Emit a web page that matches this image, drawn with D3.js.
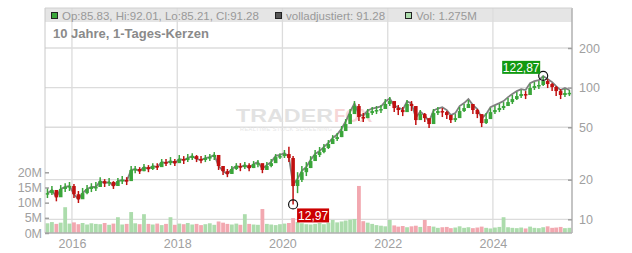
<!DOCTYPE html>
<html>
<head>
<meta charset="utf-8">
<script src="https://cdnjs.cloudflare.com/ajax/libs/d3/7.8.5/d3.min.js"></script>
<style>
  body { margin: 0; background: #fff; font-family: "Liberation Sans", Arial, sans-serif; }
</style>
</head>
<body>
<div id="chart"></div>
<script>
// monthly candles, Jul 2015 .. Jun 2025 (open = previous close)
const firstOpen = 15.4;
const closes = [
  15.8, 16.7, 14.7, 17.0, 17.6, 17.9, 15.5, 14.2, 15.8, 17.0, 17.6, 17.6,
  19.5, 18.8, 19.2, 17.9, 19.5, 19.9, 19.5, 23.7, 24.1, 23.2, 24.9, 24.1,
  25.4, 24.9, 27.2, 26.7, 27.7, 26.7, 28.7, 28.2, 29.2, 30.2, 28.7, 28.2,
  29.2, 29.7, 30.8, 25.4, 23.2, 22.1, 24.1, 25.4, 24.9, 25.8, 24.5, 26.3,
  26.7, 23.7, 25.4, 26.7, 29.7, 30.2, 31.3, 29.2, 17.9, 19.9, 22.8, 24.5,
  27.7, 30.8, 32.4, 34.8, 37.3, 40.7, 42.1, 46.8, 52.9, 63.0, 72.5, 59.8,
  58.7, 64.1, 66.4, 67.6, 68.8, 75.1, 79.1, 70.0, 67.6, 65.2, 75.1, 72.5,
  56.7, 63.0, 58.7, 52.9, 64.1, 66.4, 65.2, 61.9, 56.7, 58.7, 66.4, 70.0,
  75.1, 67.6, 63.0, 53.8, 57.7, 65.2, 67.6, 70.0, 72.5, 77.7, 81.9, 86.3,
  89.4, 87.9, 99.3, 102.8, 104.7, 112.2, 106.5, 101.1, 94.2, 87.9, 91.0, 91.28
];
const highs = [
  17.3, 17.9, 16.7, 18.2, 18.8, 19.2, 18.5, 16.4, 17.3, 18.2, 18.8, 19.2,
  20.9, 20.2, 20.6, 19.5, 20.6, 21.3, 20.9, 25.4, 25.4, 24.9, 26.3, 25.8,
  26.7, 26.7, 28.7, 28.7, 29.7, 28.7, 30.8, 30.2, 31.3, 31.8, 30.8, 30.2,
  30.8, 31.3, 32.4, 30.8, 25.4, 24.1, 25.4, 26.7, 26.7, 27.2, 26.7, 27.7,
  28.2, 26.3, 27.2, 28.7, 31.3, 31.8, 33.6, 35.6, 30.2, 22.8, 25.4, 27.2,
  30.2, 33.6, 35.4, 37.3, 40.0, 43.6, 45.2, 51.1, 57.7, 68.8, 79.1, 75.1,
  64.1, 68.8, 71.2, 72.5, 73.8, 81.9, 84.8, 77.7, 73.8, 71.2, 80.5, 79.1,
  64.1, 67.6, 64.1, 57.7, 68.8, 71.2, 70.0, 66.4, 61.9, 63.0, 71.2, 75.1,
  80.5, 75.1, 68.8, 59.8, 64.1, 70.0, 72.5, 75.1, 77.7, 83.4, 87.9, 92.6,
  95.9, 94.2, 106.5, 110.3, 112.2, 122.87, 116.2, 108.4, 102.8, 97.6, 97.6, 95.9
];
const lows = [
  14.5, 15.3, 13.7, 15.0, 16.1, 16.4, 14.5, 13.3, 14.5, 15.5, 16.1, 16.4,
  18.2, 17.6, 17.9, 17.0, 17.9, 18.5, 18.2, 19.5, 22.4, 22.1, 23.2, 22.8,
  23.7, 23.7, 25.4, 25.4, 25.8, 25.4, 27.2, 26.3, 27.2, 28.2, 27.2, 26.7,
  27.2, 27.7, 28.2, 23.7, 21.7, 20.9, 22.1, 23.7, 23.2, 24.1, 23.2, 24.5,
  24.9, 22.4, 23.7, 24.9, 27.7, 28.7, 29.2, 27.2, 12.97, 15.8, 19.2, 21.3,
  24.5, 28.2, 29.7, 31.8, 34.2, 37.9, 39.3, 42.1, 47.6, 56.7, 65.2, 55.7,
  54.8, 58.7, 61.9, 63.0, 64.1, 70.0, 72.5, 65.2, 61.9, 60.8, 67.6, 66.4,
  52.0, 58.7, 54.8, 49.3, 58.7, 61.9, 59.8, 57.7, 53.8, 54.8, 61.9, 65.2,
  70.0, 63.0, 58.7, 50.2, 52.9, 59.8, 63.0, 65.2, 67.6, 72.5, 75.1, 80.5,
  83.4, 81.9, 91.0, 95.9, 97.6, 102.8, 99.3, 94.2, 86.3, 81.9, 84.8, 86.3
];
// "volladjustiert" line
const adjusted = [
  15.8, 16.7, 14.7, 17.0, 17.6, 17.9, 15.5, 14.2, 15.8, 17.0, 17.6, 17.6,
  19.5, 18.8, 19.2, 17.9, 19.5, 19.9, 19.5, 23.7, 24.1, 23.2, 24.9, 24.1,
  25.4, 24.9, 27.2, 26.7, 27.7, 26.7, 28.7, 28.2, 29.2, 30.2, 28.7, 28.2,
  29.2, 29.7, 30.8, 25.4, 23.2, 22.1, 24.1, 25.4, 24.9, 25.8, 24.5, 26.3,
  27.2, 24.2, 25.9, 27.2, 30.3, 30.8, 31.9, 29.8, 18.3, 20.3, 23.3, 25.0,
  28.3, 31.4, 33.0, 35.5, 38.0, 41.5, 44.0, 48.9, 55.3, 65.8, 75.8, 62.5,
  61.3, 67.0, 69.4, 70.6, 71.9, 78.5, 82.7, 73.2, 70.6, 68.1, 78.5, 75.8,
  59.3, 65.8, 61.3, 55.3, 67.0, 69.4, 71.1, 67.5, 61.8, 64.0, 72.4, 76.3,
  81.9, 73.7, 68.7, 58.6, 62.9, 71.1, 73.7, 76.3, 79.0, 84.7, 89.3, 94.1,
  97.4, 95.8, 108.2, 112.1, 114.1, 122.3, 116.1, 110.2, 102.7, 95.8, 99.2, 96.0
];
// volume in millions
const volumes = [
  3.2, 3.6, 3.0, 3.4, 8.5, 3.1, 3.5, 2.9, 3.3, 2.8, 3.2, 3.0,
  2.9, 3.3, 2.7, 3.1, 5.2, 2.8, 3.0, 6.9, 3.2, 2.9, 6.2, 3.0,
  2.8, 3.1, 2.6, 3.0, 5.2, 2.7, 3.1, 2.9, 3.3, 2.8, 3.0, 2.6,
  2.9, 3.2, 2.7, 3.8, 3.4, 3.0, 2.8, 3.1, 2.7, 6.2, 3.0, 2.8,
  2.7, 7.9, 3.0, 2.8, 2.6, 2.9, 3.1, 3.3, 4.9, 3.6, 3.2, 2.9,
  2.8, 3.0, 3.3, 2.9, 3.4, 4.3, 3.5, 3.8, 4.1, 4.4, 4.6, 15.5,
  3.9, 3.4, 3.0, 2.6, 2.4, 2.2, 4.3, 2.5, 2.1, 2.3, 1.9, 2.2,
  2.4, 2.0, 4.3, 2.3, 2.1, 1.7, 1.9, 2.0, 1.6, 1.8, 2.2, 1.7,
  1.9, 1.6, 1.8, 2.1, 1.7, 1.5, 1.8, 2.0, 5.2, 1.9, 1.7, 1.6,
  1.8, 1.5, 2.1, 1.7, 1.6, 1.9, 2.2, 1.7, 1.8, 2.0, 1.6, 1.7
];

const priceTicks = [10, 20, 50, 100, 200];
const volumeTicks = [0, 5, 10, 15, 20];
const yearTicks = [2016, 2018, 2020, 2022, 2024];
const legendItems = [
  { text: "Op:85.83, Hi:92.01, Lo:85.21, Cl:91.28", color: "#3aa53a", x: 51 },
  { text: "volladjustiert: 91.28", color: "#555555", x: 275 },
  { text: "Vol: 1.275M", color: "#acdcac", x: 405 }
];
const title = "10 Jahre, 1-Tages-Kerzen";

const W = 632, H = 253;
const plot = { left: 45, right: 572, top: 8, bottom: 233 };

const svg = d3.select("#chart").append("svg")
  .attr("width", W)
  .attr("height", H);

const x = d3.scaleTime()
  .domain([new Date(2015, 5, 28), new Date(2025, 6, 3)])
  .range([plot.left, plot.right]);

const y = d3.scaleLog()
  .domain([10, 200])
  .range([219.3, 48]);

const yVol = d3.scaleLinear()
  .domain([0, 20])
  .range([plot.bottom, 172.3]);

const data = closes.map((c, i) => ({
  date: new Date(2015, 6 + i, 15),
  open: i ? closes[i - 1] : firstOpen,
  high: highs[i],
  low: lows[i],
  close: c,
  adj: adjusted[i],
  vol: volumes[i]
}));

const green = "#3aa53a", red = "#c01010";
const gridColor = "#dcdcdc";

// header band
svg.append("rect")
  .attr("x", plot.left).attr("y", plot.top)
  .attr("width", plot.right - plot.left).attr("height", 14)
  .attr("fill", "#e5e5e5");

// grid
svg.append("g").selectAll("line")
  .data(yearTicks)
  .enter().append("line")
  .attr("x1", d => x(new Date(d, 0, 1)))
  .attr("x2", d => x(new Date(d, 0, 1)))
  .attr("y1", plot.top).attr("y2", plot.bottom)
  .attr("stroke", gridColor).attr("stroke-width", 1.3);

svg.append("g").selectAll("line")
  .data(priceTicks)
  .enter().append("line")
  .attr("x1", plot.left).attr("x2", plot.right)
  .attr("y1", d => y(d)).attr("y2", d => y(d))
  .attr("stroke", gridColor).attr("stroke-width", 1.3);

// watermark
const wm = svg.append("g");
wm.append("text")
  .attr("x", 236).attr("y", 122)
  .attr("textLength", 97).attr("lengthAdjust", "spacingAndGlyphs")
  .attr("font-size", 18).attr("font-weight", "bold")
  .attr("fill", "#e2e2e2")
  .text("TRADER");
wm.append("text")
  .attr("x", 334).attr("y", 122)
  .attr("textLength", 38).attr("lengthAdjust", "spacingAndGlyphs")
  .attr("font-size", 18).attr("font-weight", "bold")
  .attr("fill", "#f6d6d6")
  .text("FOX");
wm.append("text")
  .attr("x", 240).attr("y", 131)
  .attr("textLength", 92)
  .attr("font-size", 5.5)
  .attr("fill", "#e6e6e6")
  .text("REALTIME STOCK SCREENING");

// volume bars
svg.append("g").selectAll("rect")
  .data(data)
  .enter().append("rect")
  .attr("x", d => x(d.date) - 1.9)
  .attr("width", 3.8)
  .attr("y", d => yVol(d.vol))
  .attr("height", d => plot.bottom - yVol(d.vol))
  .attr("fill", d => d.close >= d.open ? "#acdcac" : "#f2a8b0");

// adjusted line
const adjLine = d3.line()
  .x(d => x(d.date))
  .y(d => y(d.adj));

svg.append("path")
  .datum(data)
  .attr("d", adjLine)
  .attr("fill", "none")
  .attr("stroke", "#808080")
  .attr("stroke-width", 1.8);

// candles
const candles = svg.append("g").selectAll("g")
  .data(data)
  .enter().append("g");

candles.append("line")
  .attr("x1", d => x(d.date)).attr("x2", d => x(d.date))
  .attr("y1", d => y(d.high)).attr("y2", d => y(d.low))
  .attr("stroke", d => d.close >= d.open ? green : red)
  .attr("stroke-width", 1.5);

candles.append("rect")
  .attr("x", d => x(d.date) - 1.8)
  .attr("width", 3.6)
  .attr("y", d => y(Math.max(d.open, d.close)))
  .attr("height", d => Math.max(1.5, Math.abs(y(d.open) - y(d.close))))
  .attr("fill", d => d.close >= d.open ? green : red);

// frame
svg.append("line")
  .attr("x1", plot.left).attr("x2", plot.left)
  .attr("y1", plot.top).attr("y2", plot.bottom)
  .attr("stroke", "#c8c8c8");
svg.append("line")
  .attr("x1", plot.right).attr("x2", plot.right)
  .attr("y1", plot.top).attr("y2", plot.bottom)
  .attr("stroke", "#b0b0b0").attr("stroke-width", 1.5);
svg.append("line")
  .attr("x1", plot.left).attr("x2", plot.right)
  .attr("y1", plot.bottom).attr("y2", plot.bottom)
  .attr("stroke", "#b0b0b0").attr("stroke-width", 1.5);
svg.append("line")
  .attr("x1", plot.left).attr("x2", plot.right)
  .attr("y1", plot.top).attr("y2", plot.top)
  .attr("stroke", "#d0d0d0");

// axes
const axisColor = "#a0a0a0";
const yAxis = svg.append("g")
  .attr("transform", `translate(${plot.right},0)`)
  .call(d3.axisRight(y).tickValues(priceTicks).tickFormat(d3.format("d")).tickSize(-4).tickPadding(7));

const volAxis = svg.append("g")
  .attr("transform", `translate(${plot.left},0)`)
  .call(d3.axisLeft(yVol).tickValues(volumeTicks).tickFormat(d => d + "M").tickSize(-4).tickPadding(3));

const xAxis = svg.append("g")
  .attr("transform", `translate(0,${plot.bottom})`)
  .call(d3.axisBottom(x).tickValues(yearTicks.map(d => new Date(d, 0, 1)))
    .tickFormat(d3.timeFormat("%Y")).tickSize(0).tickPadding(6));

[yAxis, volAxis, xAxis].forEach(a => {
  a.select(".domain").remove();
  a.selectAll("line").attr("stroke", axisColor).attr("stroke-width", 1.5);
  a.selectAll("text")
    .attr("fill", axisColor)
    .style("font-family", "'Liberation Sans', Arial, sans-serif")
    .style("font-size", "12.5px");
});

// low / high markers
const lowD = data[d3.minIndex(data, d => d.low)];
const highD = data[d3.maxIndex(data, d => d.high)];
const fmt = v => d3.format(".2f")(v).replace(".", ",");

svg.append("circle")
  .attr("cx", x(lowD.date)).attr("cy", y(lowD.low)).attr("r", 4.5)
  .attr("fill", "none").attr("stroke", "#111").attr("stroke-width", 1.2);
svg.append("rect")
  .attr("x", x(lowD.date) + 4).attr("y", y(lowD.low) + 4)
  .attr("width", 32).attr("height", 14)
  .attr("fill", "#cc0000");
svg.append("text")
  .attr("x", x(lowD.date) + 20).attr("y", y(lowD.low) + 15.5)
  .attr("text-anchor", "middle")
  .attr("fill", "#fff").attr("font-size", 12)
  .text(fmt(lowD.low));

svg.append("circle")
  .attr("cx", x(highD.date)).attr("cy", y(highD.high)).attr("r", 4.5)
  .attr("fill", "none").attr("stroke", "#111").attr("stroke-width", 1.2);
svg.append("rect")
  .attr("x", x(highD.date) - 41).attr("y", y(highD.high) - 15)
  .attr("width", 38).attr("height", 13)
  .attr("fill", "#119911");
svg.append("text")
  .attr("x", x(highD.date) - 22).attr("y", y(highD.high) - 4)
  .attr("text-anchor", "middle")
  .attr("fill", "#fff").attr("font-size", 12)
  .text(fmt(highD.high));

// legend in header
const legend = svg.append("g");
legend.selectAll("rect")
  .data(legendItems)
  .enter().append("rect")
  .attr("x", d => d.x + 0.5).attr("y", 12.5)
  .attr("width", 6).attr("height", 6)
  .attr("fill", d => d.color)
  .attr("stroke", "#222").attr("stroke-width", 1);
legend.selectAll("text")
  .data(legendItems)
  .enter().append("text")
  .attr("x", d => d.x + 11).attr("y", 19.5)
  .attr("fill", "#999")
  .attr("font-size", 11.5)
  .text(d => d.text);

svg.append("text")
  .attr("x", 53).attr("y", 38)
  .attr("fill", "#8a8a8a")
  .attr("font-size", 13).attr("font-weight", "bold")
  .text(title);
</script>
</body>
</html>
